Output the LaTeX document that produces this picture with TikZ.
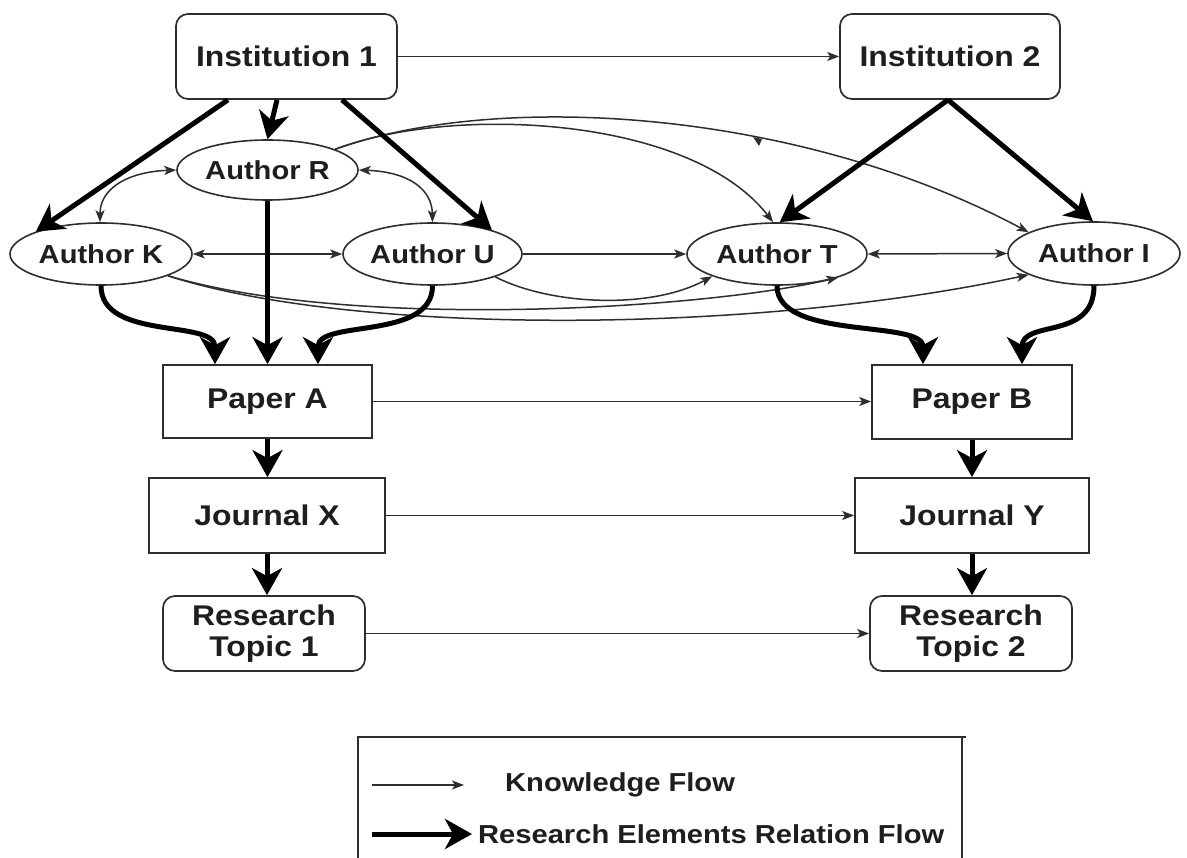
\documentclass[tikz,border=0pt]{standalone}
\usepackage{fontspec}
\setmainfont{Liberation Sans}[FakeStretch=1.12]
\usetikzlibrary{arrows.meta,shapes.geometric}
\definecolor{ink}{HTML}{1E1E1E}
\definecolor{edge}{HTML}{2E2E2E}
\begin{document}
\begin{tikzpicture}[x=1pt,y=-1pt,
  box/.style={draw=edge,line width=1.7pt,inner sep=0pt,text=ink,font=\bfseries\fontsize{28.5}{31}\selectfont,align=center},
  rbox/.style={box,rounded corners=12pt},
  auth/.style={ellipse,draw=edge,line width=1.6pt,inner sep=0pt,text=ink,font=\bfseries\fontsize{26}{30}\selectfont},
  kflow/.style={draw=edge,line width=1.5pt,-{Stealth[length=12pt,width=9pt,inset=3pt]}},
  kboth/.style={draw=edge,line width=1.5pt,{Stealth[length=12pt,width=9pt,inset=3pt]}-{Stealth[length=12pt,width=9pt,inset=3pt]}},
  rflow/.style={draw=black,line width=5pt,-{Stealth[length=27pt,width=30pt,inset=8pt]}},
  legtext/.style={anchor=west,inner sep=0pt,text=ink,font=\bfseries\fontsize{26}{30}\selectfont},
]
\useasboundingbox[fill=white] (0,0) rectangle (1187,858);

% nodes
\node[rbox,minimum width=221pt,minimum height=85pt] (i1) at (286.5,56.5) {Institution 1};
\node[rbox,minimum width=220pt,minimum height=85pt] (i2) at (950,56.5) {Institution 2};

\node[auth,minimum width=181pt,minimum height=60pt] (aR) at (267.5,170) {Author R};
\node[auth,minimum width=182pt,minimum height=62pt] (aK) at (101,254) {Author K};
\node[auth,minimum width=179pt,minimum height=62pt] (aU) at (432.5,254) {Author U};
\node[auth,minimum width=180pt,minimum height=62pt] (aT) at (777,254) {Author T};
\node[auth,minimum width=172pt,minimum height=63pt] (aI) at (1094,253.5) {Author I};

\node[box,minimum width=209pt,minimum height=73pt] (pA) at (267.5,401.5) {Paper A};
\node[box,minimum width=200pt,minimum height=74pt] (pB) at (972,402) {Paper B};
\node[box,minimum width=236pt,minimum height=75pt] (jX) at (267,515.5) {Journal X};
\node[box,minimum width=234pt,minimum height=75pt] (jY) at (972,515.5) {Journal Y};
\node[rbox,minimum width=202pt,minimum height=75pt] (t1) at (264,633.5) {Research\\Topic 1};
\node[rbox,minimum width=202pt,minimum height=75pt] (t2) at (971,633.5) {Research\\Topic 2};

% knowledge flows (thin)
\draw[kflow] (i1.east) -- (i2.west);
\draw[kboth] (aK.east) -- (aU.west);
\draw[kflow] (aU.east) -- (aT.west);
\draw[kboth] (aT.east) -- (aI.west);
\draw[kflow] (pA.east) -- (pA.east -| pB.west);
\draw[kflow] (jX.east) -- (jY.west);
\draw[kflow] (t1.east) -- (t2.west);

\draw[kboth] (aR.west) .. controls (125,172) and (100,190) .. ([xshift=-1pt]aK.north);
\draw[kboth] (aR.east) .. controls (410,172) and (432,190) .. (aU.north);

\draw[kflow] (aR.17) .. controls (450,105) and (690,115) .. (aT.97);
\draw[kflow] (aR.17) .. controls (500,90) and (800,110) .. (aI.162);
\draw[kflow] (aU.-20) .. controls (550,305) and (650,310) .. (aT.-161);
\draw[kflow] (aK.-18) .. controls (350,330) and (700,310) .. (aT.-21);
\draw[kflow] (aK.-18) .. controls (350,335) and (750,335) .. (aI.-162);
\fill[edge] (753,137) -- (762,139) -- (759,146) -- cycle;

% research element relation flows (thick)
\draw[rflow] ([xshift=-58.5pt]i1.south) -- (aK.161);
\draw[rflow] ([xshift=-9.5pt]i1.south) -- (aR.north);
\draw[rflow] ([xshift=55.5pt]i1.south) -- (aU.22);
\draw[rflow] ([xshift=-2pt]i2.south) -- (aT.85);
\draw[rflow] ([xshift=-2pt]i2.south) -- (aI.92);

\draw[rflow] (aR.south) -- (aR.south |- pA.north);
\draw[rflow] (aK.south) .. controls +(0,55) and ([xshift=-52.5pt,yshift=45pt]pA.north) .. ([xshift=-52.5pt]pA.north);
\draw[rflow] (aU.south) .. controls +(0,55) and ([xshift=50.5pt,yshift=45pt]pA.north) .. ([xshift=50.5pt]pA.north);
\draw[rflow] (aT.south) .. controls +(0,55) and ([xshift=-49pt,yshift=45pt]pB.north) .. ([xshift=-49pt]pB.north);
\draw[rflow] (aI.south) .. controls +(0,55) and ([xshift=50pt,yshift=45pt]pB.north) .. ([xshift=50pt]pB.north);

\draw[rflow] (pA.south) -- (pA.south |- jX.north);
\draw[rflow] (jX.south) -- (jX.south |- t1.north);
\draw[rflow] (pB.south) -- (pB.south |- jY.north);
\draw[rflow] (jY.south) -- (jY.south |- t2.north);

% legend
\draw[edge,line width=1.6pt] (358,858) -- (358,737) -- (966,737);
\draw[edge,line width=1.6pt] (962,737) -- (962,858);
\coordinate (l1a) at (372,785);
\coordinate (l1b) at (464,785);
\draw[kflow] (l1a) -- (l1b);
\node[legtext] (l1t) at (505,785) {Knowledge Flow};
\coordinate (l2a) at (372,834);
\coordinate (l2b) at (472,834);
\draw[rflow] (l2a) -- (l2b);
\node[legtext] (l2t) at (478,834) {Research Elements Relation Flow};
\end{tikzpicture}
\end{document}
